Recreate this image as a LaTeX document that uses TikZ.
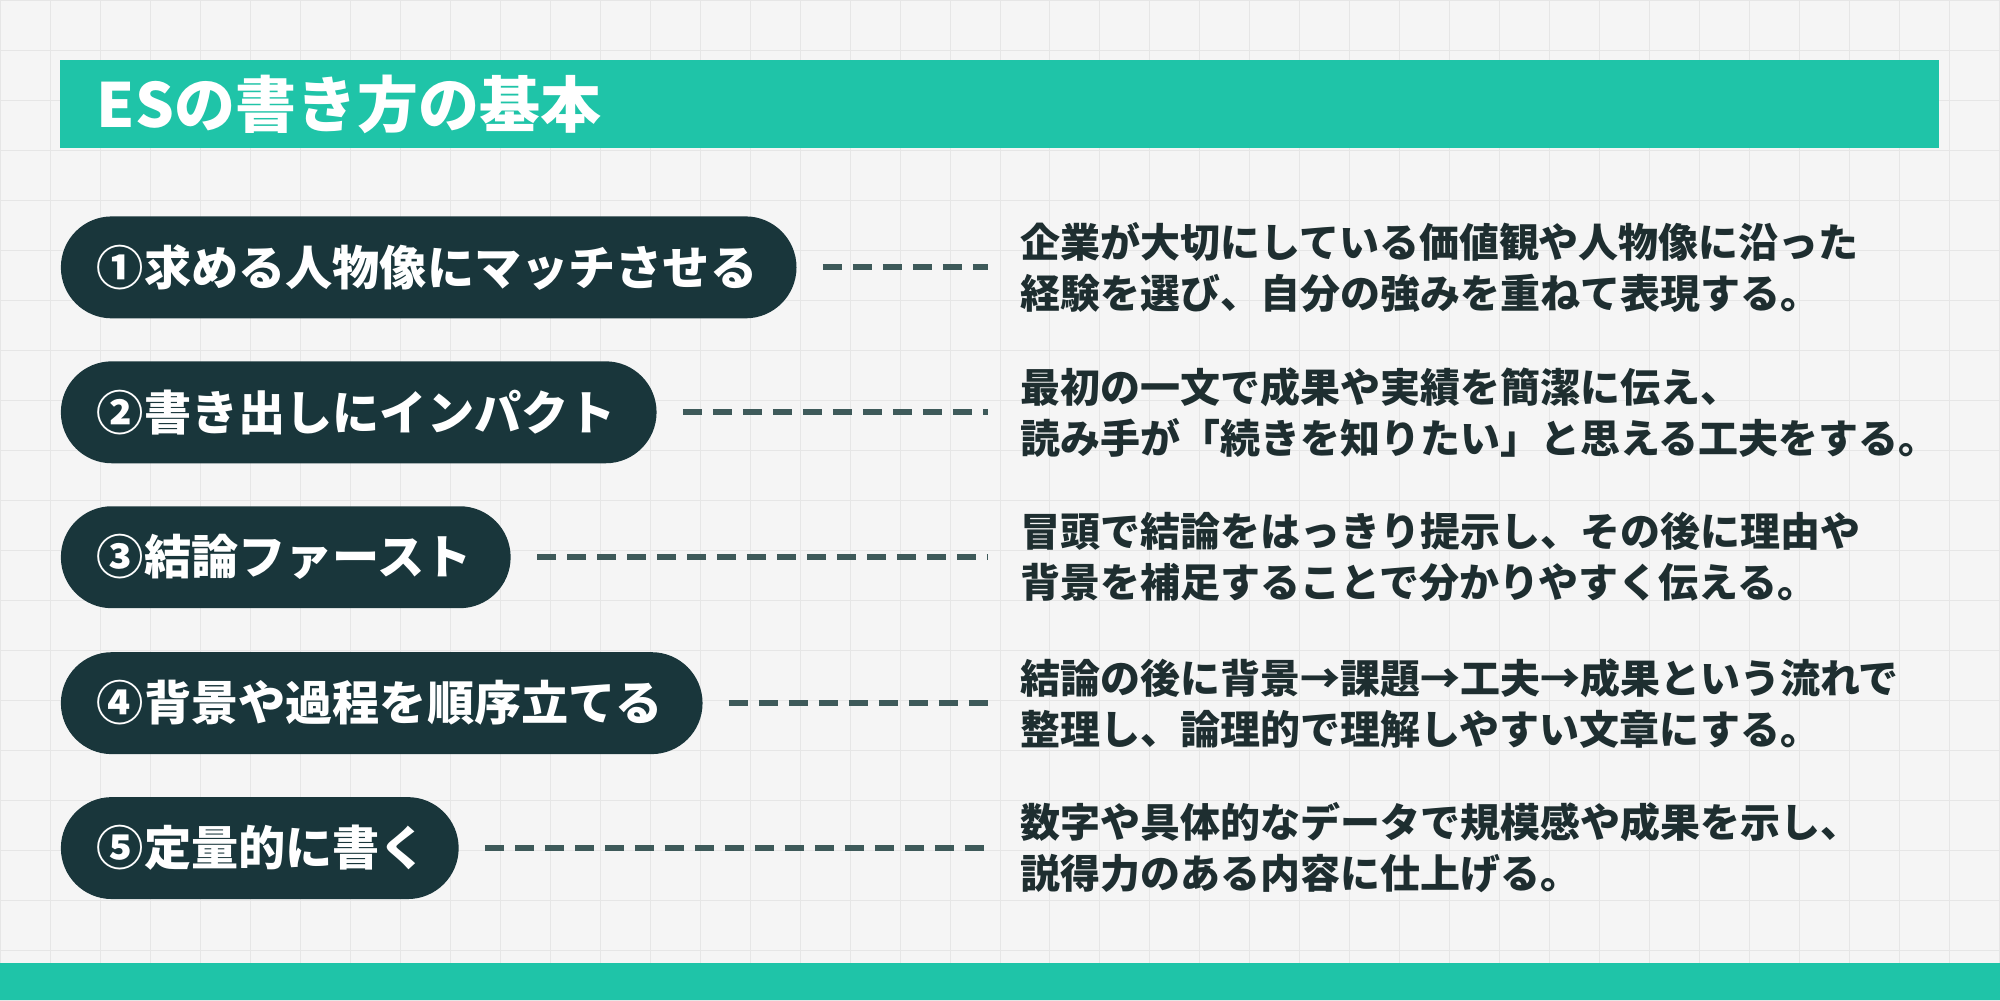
\documentclass[tikz,border=0pt]{standalone}
\usepackage{fontspec}
\setmainfont{Noto Sans CJK JP}
\definecolor{teal}{HTML}{1FC4A8}
\definecolor{dark}{HTML}{19363B}
\definecolor{bg}{HTML}{F5F5F5}
\definecolor{gridc}{HTML}{E6E6E6}
\definecolor{dashc}{HTML}{3E5A5A}
\definecolor{txt}{HTML}{1E2E30}
\begin{document}
\begin{tikzpicture}[x=0.5pt,y=-0.5pt,
  pill/.style={draw=none,fill=dark,rounded corners=25.5pt,minimum height=51pt,anchor=west,
    text=white,font=\bfseries\fontsize{23.6}{26}\selectfont,inner xsep=18pt,align=left},
  desc/.style={anchor=west,text=txt,font=\bfseries\fontsize{20}{25.5}\selectfont,align=left,inner sep=0pt},
  dline/.style={dashc,line width=3pt,dash pattern=on 9.5pt off 5.5pt}]
\fill[bg] (0,0) rectangle (2000,1000);
\foreach \x in {0,50,...,2000} \draw[gridc,line width=0.5pt] (\x,0) -- (\x,1000);
\foreach \y in {0,50,...,1000} \draw[gridc,line width=0.5pt] (0,\y) -- (2000,\y);
\useasboundingbox (0,0) rectangle (2000,1000);
\fill[teal] (60,60) rectangle (1939,148);
\node[anchor=west,text=white,font=\bfseries\fontsize{30.5}{34}\selectfont,inner sep=0pt] (title) at (96,104) {ESの書き方の基本};
\fill[teal] (0,963) rectangle (2000,1000);

\node[pill,text width=332pt] (p1) at (60,267) {①求める人物像にマッチさせる};
\node[pill,text width=262pt] (p2) at (60,412) {②書き出しにインパクト};
\node[pill,text width=189pt] (p3) at (60,557) {③結論ファースト};
\node[pill,text width=285pt] (p4) at (60,703) {④背景や過程を順序立てる};
\node[pill,text width=163pt] (p5) at (60,848) {⑤定量的に書く};

\node[desc] (d1) at (1020,267) {企業が大切にしている価値観や人物像に沿った\\経験を選び、自分の強みを重ねて表現する。};
\node[desc] (d2) at (1020,412) {最初の一文で成果や実績を簡潔に伝え、\\読み手が「続きを知りたい」と思える工夫をする。};
\node[desc] (d3) at (1020,557) {冒頭で結論をはっきり提示し、その後に理由や\\背景を補足することで分かりやすく伝える。};
\node[desc] (d4) at (1020,703) {結論の後に背景→課題→工夫→成果という流れで\\整理し、論理的で理解しやすい文章にする。};
\node[desc] (d5) at (1020,848) {数字や具体的なデータで規模感や成果を示し、\\説得力のある内容に仕上げる。};

\foreach \i in {1,...,5}
  \draw[dline] ([xshift=13pt]p\i.east) -- ([xshift=-16pt]p\i.east -| d\i.west);
\end{tikzpicture}
\end{document}
